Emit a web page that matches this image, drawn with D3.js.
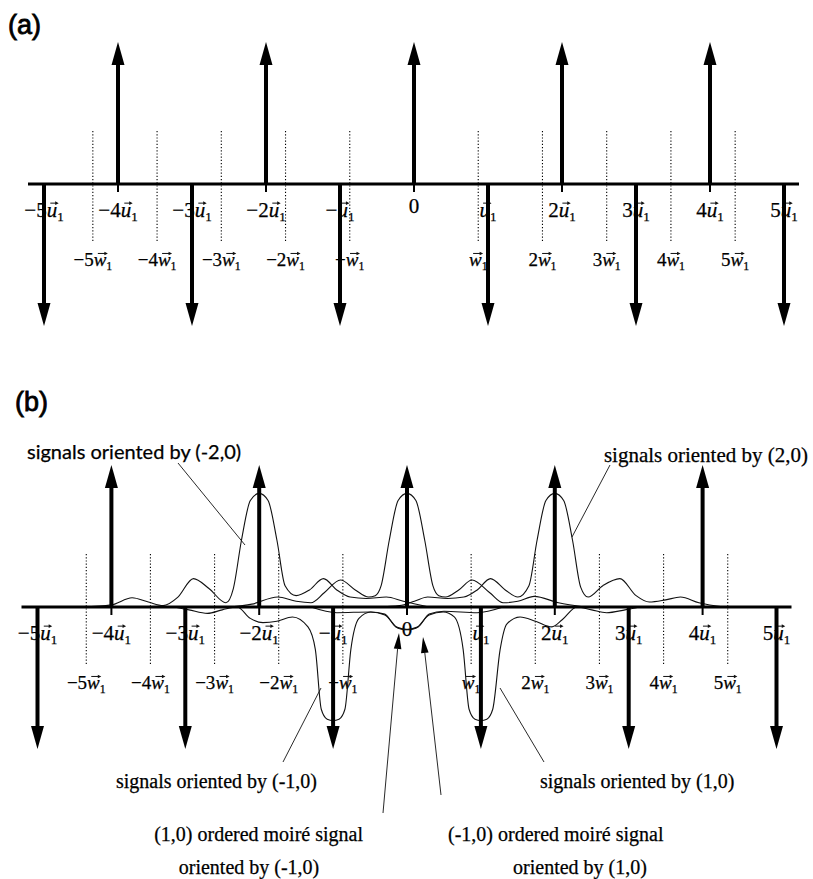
<!DOCTYPE html>
<html>
<head>
<meta charset="utf-8">
<script src="https://cdn.jsdelivr.net/npm/d3@7"></script>
<style>
body { margin: 0; background: #fff; }
text { fill: #000; stroke: #000; stroke-width: 0.25px; }
</style>
</head>
<body>
<div id="chart"></div>
<script>
var width = 813, height = 879;

// orders of the impulses along the u1 axis
var upOrders = [-4, -2, 0, 2, 4];
var downOrders = [-5, -3, -1, 1, 3, 5];
var wOrders = [-5, -4, -3, -2, -1, 1, 2, 3, 4, 5];
var wRatio = 0.868; // |w1| / |u1|

var uCoefs = ["−5", "−4", "−3", "−2", "−", "0", "", "2", "3", "4", "5"];
var uOrders = [-5, -4, -3, -2, -1, 0, 1, 2, 3, 4, 5];
var wCoefs = ["−5", "−4", "−3", "−2", "−", "", "2", "3", "4", "5"];

// spectra of panel (b): [position in u1 units, amplitude relative to an impulse]
var sigM2 = [[-4.4,0],[-4.0,0.015],[-3.72,0.065],[-3.5,0.035],[-3.3,0.01],[-3.1,0.07],[-2.89,0.2],[-2.68,0.13],
  [-2.45,0.03],[-2.35,0.13],[-2.24,0.47],[-2.12,0.75],[-2.0,0.8],[-1.88,0.75],[-1.76,0.47],[-1.65,0.15],
  [-1.5,0.08],[-1.32,0.12],[-1.13,0.2],[-0.95,0.12],[-0.77,0.07],[-0.55,0.06],[-0.28,0.07],[-0.05,0.04],[0.3,0]];
var sig0 = [[-2.4,0],[-2.1,0.02],[-1.75,0.07],[-1.5,0.04],[-1.3,0.03],[-1.12,0.1],[-0.9,0.19],[-0.7,0.12],
  [-0.52,0.07],[-0.43,0.08],[-0.35,0.15],[-0.24,0.47],[-0.12,0.75],[0,0.8],[0.12,0.75],[0.24,0.47],
  [0.35,0.15],[0.43,0.08],[0.52,0.07],[0.7,0.12],[0.88,0.19],[1.12,0.1],[1.3,0.03],[1.5,0.04],
  [1.72,0.075],[2.05,0.03],[2.4,0]];
var sigP2 = [[-0.4,0],[-0.1,0.01],[0.1,0.04],[0.28,0.07],[0.55,0.06],[0.77,0.07],[0.95,0.12],[1.13,0.2],
  [1.33,0.12],[1.5,0.07],[1.65,0.15],[1.76,0.47],[1.88,0.75],[2.0,0.8],[2.12,0.75],[2.24,0.47],
  [2.35,0.14],[2.45,0.07],[2.65,0.15],[2.88,0.2],[3.1,0.08],[3.28,0.035],[3.5,0.05],[3.7,0.07],
  [3.95,0.03],[4.3,0]];
var sigM1 = [[-3.15,0],[-2.95,-0.02],[-2.7,-0.045],[-2.5,-0.02],[-2.3,0],[-2.12,-0.08],[-1.95,-0.11],
  [-1.76,-0.1],[-1.55,-0.07],[-1.34,-0.14],[-1.24,-0.3],[-1.16,-0.72],[-1.08,-0.79],[-1.0,-0.8],
  [-0.92,-0.79],[-0.84,-0.72],[-0.76,-0.3],[-0.65,-0.08],[-0.49,-0.035],[-0.3,-0.056],[-0.12,-0.15],
  [-0.03,-0.16],[0.15,-0.14],[0.3,-0.05],[0.5,-0.03],[0.95,-0.04],[1.3,0]];
var sigP1 = [[-1.3,0],[-0.95,-0.04],[-0.5,-0.035],[-0.3,-0.05],[-0.15,-0.14],[0.03,-0.16],[0.12,-0.15],
  [0.3,-0.056],[0.49,-0.035],[0.64,-0.07],[0.76,-0.3],[0.84,-0.72],[0.92,-0.79],[1.0,-0.8],[1.08,-0.79],
  [1.16,-0.72],[1.26,-0.3],[1.35,-0.12],[1.53,-0.07],[1.74,-0.1],[1.96,-0.14],[2.1,-0.09],[2.3,0],
  [2.5,-0.02],[2.7,-0.04],[2.95,-0.02],[3.15,0]];

var arrowLen = 142;
var serif = "'Liberation Serif', 'Times New Roman', serif";

var svg = d3.select("#chart").append("svg")
    .attr("width", width)
    .attr("height", height);

function vecLabel(g, cx, baseline, coef, letter, fs) {
    var t = g.append("text")
        .attr("x", cx).attr("y", baseline)
        .attr("text-anchor", "middle")
        .style("font-family", serif)
        .style("font-size", fs + "px");
    t.append("tspan").text(coef);
    t.append("tspan").style("font-style", "italic").text(letter);
    t.append("tspan").attr("dy", 4).style("font-size", (fs * 0.62) + "px").text("1");
    // little vector arrow above the letter
    var ext = t.node().getExtentOfChar(coef.length);
    var ay = baseline - fs * 0.66;
    var x1 = ext.x + ext.width * 0.25 + 1, x2 = ext.x + ext.width + 1.5;
    g.append("line")
        .attr("x1", x1).attr("x2", x2 - 2)
        .attr("y1", ay).attr("y2", ay)
        .attr("stroke", "#111").attr("stroke-width", 1);
    g.append("path")
        .attr("d", "M" + x2 + "," + ay + "l-3.5,-1.8l0,3.6z")
        .attr("fill", "#111");
}

function drawPanel(p) {
    var x = d3.scaleLinear().domain([-5, 5]).range([p.cx - 5 * p.u, p.cx + 5 * p.u]);
    var y = d3.scaleLinear().domain([-1, 1]).range([p.axisY + arrowLen, p.axisY - arrowLen]);
    var g = svg.append("g");

    g.append("text")
        .attr("x", p.tagX).attr("y", p.tagY)
        .style("font-family", "'Liberation Sans', Arial, sans-serif")
        .style("font-size", "27px")
        .style("stroke-width", "0.8px")
        .text(p.tag);

    // dotted w1 grid
    g.selectAll("line.w").data(wOrders).enter().append("line")
        .attr("class", "w")
        .attr("x1", d => x(d * wRatio)).attr("x2", d => x(d * wRatio))
        .attr("y1", p.axisY - 53).attr("y2", p.axisY + 57)
        .attr("stroke", "#000").attr("stroke-width", 1.1)
        .attr("stroke-dasharray", "1.2,2");

    // labels
    uOrders.forEach(function(d, i) {
        if (d === 0) {
            g.append("text").attr("x", x(0)).attr("y", p.axisY + 29)
                .attr("text-anchor", "middle")
                .style("font-family", serif).style("font-size", "21px")
                .text("0");
        } else {
            vecLabel(g, x(d), p.axisY + 33, uCoefs[i], "u", 21);
        }
    });
    wOrders.forEach(function(d, i) {
        vecLabel(g, x(d * wRatio), p.axisY + 82, wCoefs[i], "w", 19);
    });

    // spectra
    if (p.curves) {
        var line = d3.line()
            .x(d => x(d[0])).y(d => y(d[1]))
            .curve(d3.curveMonotoneX);
        g.selectAll("path.sig").data(p.curves).enter().append("path")
            .attr("class", "sig")
            .attr("d", line)
            .attr("fill", "none")
            .attr("stroke", "#111").attr("stroke-width", 1.1);
    }

    // axis
    g.append("line")
        .attr("x1", x(-5) - 16).attr("x2", x(5) + 15)
        .attr("y1", p.axisY).attr("y2", p.axisY)
        .attr("stroke", "#000").attr("stroke-width", 3);
    g.selectAll("line.tick").data(upOrders).enter().append("line")
        .attr("x1", d => x(d)).attr("x2", d => x(d))
        .attr("y1", p.axisY).attr("y2", p.axisY + 8)
        .attr("stroke", "#000").attr("stroke-width", 2);

    // impulses
    var headLen = 23, headW = 6.5;
    g.selectAll("line.up").data(upOrders).enter().append("line")
        .attr("x1", d => x(d)).attr("x2", d => x(d))
        .attr("y1", p.axisY).attr("y2", y(1) + headLen - 2)
        .attr("stroke", "#000").attr("stroke-width", 4);
    g.selectAll("path.up").data(upOrders).enter().append("path")
        .attr("d", d => "M" + x(d) + "," + y(1) + "L" + (x(d) - headW) + "," + (y(1) + headLen) +
            "L" + (x(d) + headW) + "," + (y(1) + headLen) + "Z")
        .attr("fill", "#000");
    g.selectAll("line.down").data(downOrders).enter().append("line")
        .attr("x1", d => x(d)).attr("x2", d => x(d))
        .attr("y1", p.axisY).attr("y2", y(-1) - headLen + 2)
        .attr("stroke", "#000").attr("stroke-width", 4);
    g.selectAll("path.down").data(downOrders).enter().append("path")
        .attr("d", d => "M" + x(d) + "," + y(-1) + "L" + (x(d) - headW) + "," + (y(-1) - headLen) +
            "L" + (x(d) + headW) + "," + (y(-1) - headLen) + "Z")
        .attr("fill", "#000");
    return g;
}

drawPanel({tag: "(a)", tagX: 8, tagY: 34, cx: 414, u: 74, axisY: 184});
var gb = drawPanel({tag: "(b)", tagX: 15, tagY: 411, cx: 407, u: 73.9, axisY: 607,
    curves: [sigM2, sig0, sigP2, sigM1, sigP1]});

// annotations of panel (b)
function note(txt, xx, yy, anchor, family, fs) {
    gb.append("text").attr("x", xx).attr("y", yy)
        .attr("text-anchor", anchor)
        .style("font-family", family || serif)
        .style("font-size", (fs || 20) + "px")
        .text(txt);
}
function leader(x1, y1, x2, y2) {
    gb.append("line").attr("x1", x1).attr("y1", y1).attr("x2", x2).attr("y2", y2)
        .attr("stroke", "#111").attr("stroke-width", 0.9);
}
note("signals oriented by (-2,0)", 27, 459, "start", "Lato, 'Open Sans', sans-serif", 20);
leader(178, 463, 245, 545);
note("signals oriented by (2,0)", 808, 462, "end", serif, 21);
leader(610, 465, 572, 537);
note("signals oriented by (-1,0)", 317, 788, "end");
leader(283, 762, 321, 688);
note("signals oriented by (1,0)", 540, 788, "start");
leader(544, 762, 500, 688);
note("(1,0) ordered moiré signal", 363, 841, "end");
note("oriented by (-1,0)", 249, 874, "middle");
note("(-1,0) ordered moiré signal", 448, 841, "start");
note("oriented by (1,0)", 580, 874, "middle");

// moiré arrows
[[383, 813, 399, 633], [441, 795, 423, 637]].forEach(function(a) {
    var dx = a[2] - a[0], dy = a[3] - a[1], len = Math.sqrt(dx * dx + dy * dy);
    var ux = dx / len, uy = dy / len, hl = 16, hw = 3.8;
    var bx = a[2] - ux * hl, by = a[3] - uy * hl;
    leader(a[0], a[1], bx, by);
    gb.append("path")
        .attr("d", "M" + a[2] + "," + a[3] + "L" + (bx - uy * hw) + "," + (by + ux * hw) +
            "L" + (bx + uy * hw) + "," + (by - ux * hw) + "Z")
        .attr("fill", "#000");
});
</script>
</body>
</html>
